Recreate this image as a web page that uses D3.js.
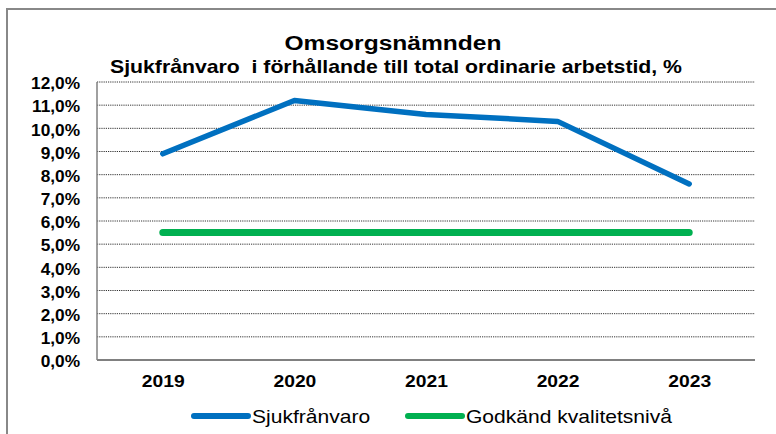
<!DOCTYPE html>
<html lang="sv">
<head>
<meta charset="UTF-8">
<title>Omsorgsnämnden</title>
<script src="https://d3js.org/d3.v7.min.js"></script>
<style>
    body {
        margin: 0;
        padding: 0;
        background: #fff;
        font-family: "Liberation Sans", Arial, sans-serif;
        overflow: hidden;
    }
    .grid line {
        stroke: #333;
        stroke-width: 1;
        stroke-dasharray: 1.2 1;
    }
    .tick-y, .tick-x {
        font-weight: bold;
        fill: #000;
    }
</style>
</head>
<body>
<div id="chart"></div>
<script>
    // data
    const years = ["2019", "2020", "2021", "2022", "2023"];
    const sjukfranvaro = [8.9, 11.2, 10.6, 10.3, 7.6];
    const godkand = [5.5, 5.5, 5.5, 5.5, 5.5];
    const yTicks = [0, 1, 2, 3, 4, 5, 6, 7, 8, 9, 10, 11, 12];

    const W = 776, H = 434;
    const margin = { top: 82, right: 21, bottom: 74, left: 97 };
    const width = W - margin.left - margin.right;
    const height = H - margin.top - margin.bottom;
    const sx = 1.17; // the original text is a bit stretched sideways

    const svg = d3.select("#chart")
        .append("svg")
        .attr("width", W)
        .attr("height", H);

    // outer border (only top and left visible)
    svg.append("path")
        .attr("d", `M7,${H + 5} L7,9 L${W + 5},9`)
        .attr("fill", "none")
        .attr("stroke", "#888")
        .attr("stroke-width", 2);

    // titles
    svg.append("text")
        .attr("transform", `translate(393,50) scale(${sx},1)`)
        .attr("text-anchor", "middle")
        .style("font-size", "21px").style("font-weight", "bold")
        .text("Omsorgsnämnden");

    svg.append("text")
        .attr("transform", `translate(396,73) scale(1.18,1)`)
        .attr("text-anchor", "middle")
        .style("font-size", "18px").style("font-weight", "bold")
        .style("white-space", "pre")
        .attr("xml:space", "preserve")
        .text("Sjukfrånvaro  i förhållande till total ordinarie arbetstid, %");

    const g = svg.append("g")
        .attr("transform", `translate(${margin.left},${margin.top})`);

    const x = d3.scalePoint()
        .domain(years)
        .range([0, width])
        .padding(0.5);

    const y = d3.scaleLinear()
        .domain([0, 12])
        .range([height, 0]);

    // gridlines
    g.append("g")
        .attr("class", "grid")
        .selectAll("line")
        .data(yTicks.filter(d => d > 0))
        .enter().append("line")
        .attr("x1", 0).attr("x2", width)
        .attr("y1", d => y(d)).attr("y2", d => y(d));

    // y axis
    const yAxis = g.append("g")
        .call(d3.axisLeft(y).tickValues(yTicks).tickSize(0)
            .tickFormat(d => d3.format(".1f")(d).replace(".", ",") + "%"));
    yAxis.select(".domain").remove();
    yAxis.selectAll("text")
        .attr("class", "tick-y")
        .attr("x", 0)
        .attr("dy", "0.36em")
        .attr("transform", `translate(-17,1) scale(1.08,1)`)
        .style("font-size", "16px")
        .style("font-family", "'Liberation Sans', Arial, sans-serif");

    // x axis
    const xAxis = g.append("g")
        .attr("transform", `translate(0,${height})`)
        .call(d3.axisBottom(x).tickSize(0).tickPadding(15));
    xAxis.select(".domain").remove();
    xAxis.selectAll("text")
        .attr("class", "tick-x")
        .attr("transform", `scale(${sx},1)`)
        .style("font-size", "16.5px")
        .style("font-family", "'Liberation Sans', Arial, sans-serif");

    // axis lines
    g.append("line")
        .attr("x1", 0).attr("x2", 0)
        .attr("y1", 0).attr("y2", height)
        .attr("stroke", "#808080").attr("stroke-width", 1.5);
    g.append("line")
        .attr("x1", 0).attr("x2", width)
        .attr("y1", height).attr("y2", height)
        .attr("stroke", "#808080").attr("stroke-width", 2);

    const line = d3.line()
        .x((d, i) => x(years[i]))
        .y(d => y(d));

    g.append("path")
        .datum(godkand)
        .attr("fill", "none")
        .attr("stroke", "#00b050")
        .attr("stroke-width", 7)
        .attr("stroke-linecap", "round")
        .attr("d", line);

    g.append("path")
        .datum(sjukfranvaro)
        .attr("fill", "none")
        .attr("stroke", "#0070c0")
        .attr("stroke-width", 5.5)
        .attr("stroke-linecap", "round")
        .attr("stroke-linejoin", "round")
        .attr("d", line);

    // legend
    const legendItems = [
        { name: "Sjukfrånvaro", color: "#0070c0", x: 194 },
        { name: "Godkänd kvalitetsnivå", color: "#00b050", x: 408 }
    ];
    const lg = svg.append("g")
        .selectAll("g")
        .data(legendItems)
        .enter().append("g")
        .attr("transform", d => `translate(${d.x},416)`);
    lg.append("line")
        .attr("x1", 0).attr("x2", 54)
        .attr("stroke", d => d.color)
        .attr("stroke-width", 6)
        .attr("stroke-linecap", "round");
    lg.append("text")
        .attr("transform", `translate(58,6.5) scale(${sx},1)`)
        .style("font-size", "18px")
        .text(d => d.name);
</script>
</body>
</html>
